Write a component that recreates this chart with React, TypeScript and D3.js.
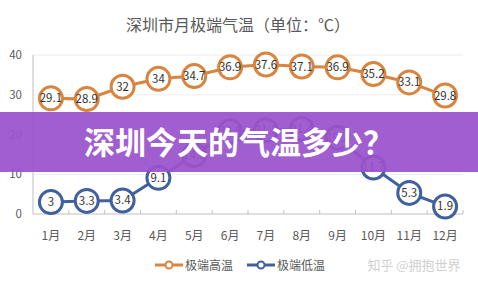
import React from "react";
import * as d3 from "d3";

const months = ["1月","2月","3月","4月","5月","6月","7月","8月","9月","10月","11月","12月"];
const highTemps = [29.1, 28.9, 32, 34, 34.7, 36.9, 37.6, 37.1, 36.9, 35.2, 33.1, 29.8];
const lowTemps = [3, 3.3, 3.4, 9.1, 14.8, 20.8, 21.1, 21.4, 19.2, 11.7, 5.3, 1.9];
const yTicks = [0, 10, 20, 30, 40];
const seriesNames = ["极端高温", "极端低温"];
const titleText = "深圳市月极端气温（单位：℃）";
const bannerText = "深圳今天的气温多少？";
const watermark = "知乎 @拥抱世界";

const W = 478, H = 285;
const left = 33, right = 463, top = 55, bottom = 214;
const font = "'Microsoft YaHei', 'Noto Sans CJK SC', sans-serif";

export default function App() {
  const x = d3.scaleBand<string>().domain(months).range([left, right]);
  const y = d3.scaleLinear().domain([0, 40]).range([bottom, top]);
  const cx = (m: string) => (x(m) as number) + x.bandwidth() / 2;
  const line = d3.line<number>().x((_, i) => cx(months[i])).y((d) => y(d));
  const orange = "#d9843f";
  const blue = "#41609e";
  const series = [
    { data: highTemps, color: orange },
    { data: lowTemps, color: blue },
  ];
  return (
    <svg width={W} height={H} style={{ position: "absolute", left: 0, top: 0, background: "#fff" }}>
      <rect x={0} y={0} width={W} height={H} fill="#fff" />
      <text x={238} y={31} textAnchor="middle" fontFamily={font} fontSize={16} fill="#595959">{titleText}</text>
      {yTicks.map((t) => (
        <g key={t}>
          {t > 0 && <line x1={left} x2={right} y1={y(t)} y2={y(t)} stroke="#ececec" strokeWidth={1} />}
          <text x={22} y={y(t) + 4} textAnchor="end" fontFamily={font} fontSize={11.5} fill="#595959">{t}</text>
        </g>
      ))}
      <line x1={left} x2={left} y1={top} y2={bottom} stroke="#bfbfbf" />
      <line x1={left} x2={right} y1={bottom} y2={bottom} stroke="#bfbfbf" />
      {months.map((m, i) => (
        <g key={m}>
          <line x1={(x(m) as number) + x.bandwidth()} x2={(x(m) as number) + x.bandwidth()} y1={bottom} y2={bottom - 4} stroke="#bfbfbf" />
          <text x={cx(m)} y={240} textAnchor="middle" fontFamily={font} fontSize={12} fill="#595959">{m}</text>
        </g>
      ))}
      {series.map((s, si) => (
        <g key={si}>
          <path d={line(s.data) || ""} fill="none" stroke={s.color} strokeWidth={3} />
          {s.data.map((v, i) => (
            <g key={i}>
              <circle cx={cx(months[i])} cy={y(v)} r={11.5} fill="#fff" stroke={s.color} strokeWidth={3} />
              <text x={cx(months[i])} y={y(v) + 4} textAnchor="middle" fontFamily={font} fontSize={11.5} fill="#333">{v}</text>
            </g>
          ))}
        </g>
      ))}
      {/* legend */}
      {[{ x0: 155, c: orange, t: seriesNames[0] }, { x0: 247, c: blue, t: seriesNames[1] }].map((l) => (
        <g key={l.t}>
          <line x1={l.x0} x2={l.x0 + 28} y1={265} y2={265} stroke={l.c} strokeWidth={3} />
          <circle cx={l.x0 + 14} cy={265} r={3.5} fill="#fff" stroke={l.c} strokeWidth={2} />
          <text x={l.x0 + 30} y={269.5} fontFamily={font} fontSize={12} fill="#595959">{l.t}</text>
        </g>
      ))}
      <text x={414} y={270} textAnchor="middle" fontFamily={font} fontSize={13} fill="#d0d0d0">{watermark}</text>
      {/* banner overlay */}
      <rect x={0} y={112} width={W} height={60} fill="#9a52cc" fillOpacity={0.93} />
      <text x={239} y={154} textAnchor="middle" fontFamily={font} fontSize={31} fontWeight="bold" fill="#fff">{bannerText}</text>
    </svg>
  );
}
